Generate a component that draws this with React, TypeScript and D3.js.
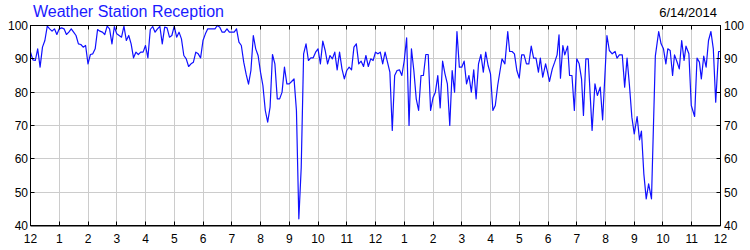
import React from "react";
import * as d3 from "d3";

const title = "Weather Station Reception";
const dateLabel = "6/14/2014";

// minutes since midnight
const minutes = [
  0,5,10,15,20,25,30,35,40,45,50,55,60,65,70,75,80,85,90,95,100,105,110,115,120,125,130,135,140,145,150,155,160,165,170,175,180,185,190,195,200,205,210,215,220,225,230,235,240,245,250,255,260,265,270,275,280,285,290,295,300,305,310,315,320,325,330,335,340,345,350,355,360,365,370,375,380,385,390,395,400,405,410,415,420,425,430,435,440,445,450,455,460,465,470,475,480,485,490,495,500,505,510,515,520,525,530,535,540,545,550,555,560,565,570,575,580,585,590,595,600,605,610,615,620,625,630,635,640,645,650,655,660,665,670,675,680,685,690,695,700,705,710,715,720,725,730,735,740,745,750,755,760,765,770,775,780,785,790,795,800,805,810,815,820,825,830,835,840,845,850,855,860,865,870,875,880,885,890,895,900,905,910,915,920,925,930,935,940,945,950,955,960,965,970,975,980,984,990,996,1000,1005,1010,1015,1020,1025,1030,1035,1040,1045,1050,1055,1060,1064,1069,1075,1079,1083,1089,1094,1099,1103,1106,1111,1115,1121,1125,1130,1135,1140,1145,1150,1154,1159,1164,1172,1178,1183,1189,1194,1203,1208,1214,1220,1224,1229,1235,1240,1245,1250,1255,1260,1266,1271,1275,1280,1285,1290,1296,1304,1311,1316,1321,1326,1330,1335,1340,1344,1349,1354,1359,1364,1368,1374,1379,1386,1391,1396,1400,1405,1410,1415,1420,1425,1430,1436,1440,
];

// reception percentage
const reception = [
  92,89.7,89.5,93,87.5,93.5,95.5,99.8,99,98.3,99,97.3,99,99.3,99,97.3,98,99,98,97,94.5,94.3,93.5,94,88.5,91.3,91.5,93,98.8,98.3,98,97.3,99.8,99,94.5,99.7,97.5,97,96.5,99.8,95.5,97,94.5,90.3,92,91.3,92,92,94,90.3,98.8,99.7,98,99,99.7,94.5,99.5,99.3,96.5,97,99.8,96.5,98,96,91,90,87.7,88.5,89,92,91.5,90.3,95.5,97.5,99,99,99,99,100,99.5,98,98,99,98,98,98,99,95,94,89,85.4,82.4,86.5,97,93,91,86,82,74.5,71,75.5,91.3,88.5,78,78,80,87.5,82.5,82.5,83.2,84,74.5,42,57.5,91.5,94.5,89.5,90.3,90.3,92,93,88.5,95.3,92.5,88.5,91,90,92,86.7,92,87,84,86.5,87.5,86.7,93.5,94.5,88.5,89.3,87.7,91,87.7,90,89.5,92,91.5,92,88.5,92,89,86,68.5,85,86.5,86.7,85,89.5,96.3,70,93,86.5,78,74.5,85,85,91.3,91.3,74.5,78.3,80,85,75.3,89.3,85.5,82.5,70,86.5,80,98.2,87.5,87.5,89.3,82.5,85,80,86.7,78,88.5,91.3,86,92,88,85.5,74.5,76,82,86.5,90,88.5,98.2,92.2,92.2,91.5,86.5,84.2,91.2,91.2,88.5,88.5,93.8,90.2,90.2,86,90.2,84.5,88.5,86,83.2,87,89,91.2,97.2,84.2,94,91.2,93.8,85,85,74.5,90,88.5,84,73,90,90,68.5,82.5,79,81.5,71.7,97,92.5,91.5,92.2,90.2,91.2,91.2,81.5,90.2,82,72.5,67.5,72.7,65.7,68.3,55.5,48,52.5,48,90.8,98.2,94.5,93,88.5,93,92.5,85,91.2,89.2,87,95.5,89.5,93.8,91.5,76,72.7,90.2,89,84,90.8,87.5,95.5,98.2,93,77,92.2,92.2,
];

const yTicks = [40, 50, 60, 70, 80, 90, 100];
const hourTicks = d3.range(0, 25);
const hourLabels = hourTicks.map((h) => String(h % 12 === 0 ? 12 : h % 12));

const W = 750;
const H = 250;
const left = 30.5;
const right = 720.5;
const top = 25.5;
const bottom = 225.5;
const FONT = "Arial, 'Liberation Sans', sans-serif";

export default function App() {
  const x = d3.scaleLinear().domain([0, 1440]).range([left, right]);
  const y = d3.scaleLinear().domain([40, 100]).range([bottom, top]);
  const pts = minutes.map((m, i) => [m, reception[i]] as [number, number]);
  const line = d3
    .line<[number, number]>()
    .x((d) => x(d[0]))
    .y((d) => y(d[1]));
  const tickLen = 4;
  const snap = (v: number) => Math.round(v - 0.5) + 0.5;

  return (
    <svg
      width={W}
      height={H}
      style={{ position: "absolute", left: 0, top: 0, background: "#fff" }}
      fontFamily={FONT}
    >
      <rect x={0} y={0} width={W} height={H} fill="#fff" />
      {/* gridlines */}
      {hourTicks.slice(1, -1).map((h) => (
        <line key={"gv" + h} x1={snap(x(h * 60))} x2={snap(x(h * 60))} y1={top} y2={bottom} stroke="#cccccc" strokeWidth={1} />
      ))}
      {yTicks.slice(1, -1).map((v) => (
        <line key={"gh" + v} x1={left} x2={right} y1={snap(y(v))} y2={snap(y(v))} stroke="#cccccc" strokeWidth={1} />
      ))}
      {/* data */}
      <path d={line(pts) || ""} fill="none" stroke="#1010ff" strokeWidth={1.2} strokeLinejoin="round" />
      {/* frame */}
      <rect x={left} y={top} width={right - left} height={bottom - top} fill="none" stroke="#000" strokeWidth={1} />
      <line x1={left} x2={right} y1={bottom + 0.5} y2={bottom + 0.5} stroke="#000" strokeWidth={1} />
      {/* ticks */}
      {hourTicks.map((h) => (
        <g key={"t" + h}>
          <line x1={snap(x(h * 60))} x2={snap(x(h * 60))} y1={bottom} y2={bottom - tickLen} stroke="#000" />
          <line x1={snap(x(h * 60))} x2={snap(x(h * 60))} y1={top} y2={top + tickLen} stroke="#000" />
          <text x={x(h * 60)} y={243} fontSize={12} textAnchor="middle" fill="#000">
            {hourLabels[h]}
          </text>
        </g>
      ))}
      {yTicks.map((v) => (
        <g key={"y" + v}>
          <line x1={left} x2={left + tickLen} y1={snap(y(v))} y2={snap(y(v))} stroke="#000" />
          <line x1={right} x2={right - tickLen} y1={snap(y(v))} y2={snap(y(v))} stroke="#000" />
          <text x={28} y={y(v) + 4.5} fontSize={12} textAnchor="end" fill="#000">
            {v}
          </text>
          <text x={724} y={y(v) + 4.5} fontSize={12} textAnchor="start" fill="#000">
            {v}
          </text>
        </g>
      ))}
      <text x={33} y={17} fontSize={16} fill="#1a1aff">
        {title}
      </text>
      <text x={717} y={17} fontSize={13} textAnchor="end" fill="#000">
        {dateLabel}
      </text>
    </svg>
  );
}
